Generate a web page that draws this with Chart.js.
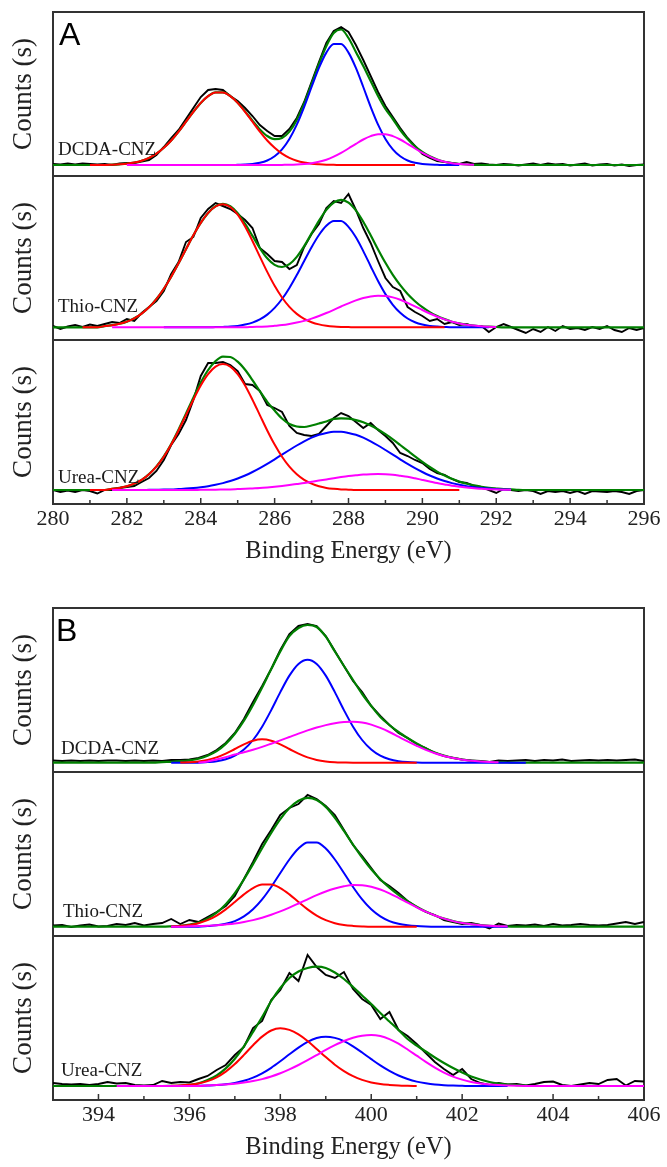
<!DOCTYPE html>
<html lang="en">
<head>
<meta charset="utf-8">
<title>XPS spectra of CNZ samples</title>
<script src="https://cdn.jsdelivr.net/npm/chart.js@4.4.1/dist/chart.umd.min.js"></script>
<style>
html,body{margin:0;padding:0;background:#fff;}
body{position:relative;width:667px;height:1167px;overflow:hidden;}
canvas.plot{position:absolute;left:0;}
.sample{position:absolute;font-family:"Liberation Serif","Times New Roman",serif;font-size:19px;line-height:19px;color:#1a1a1a;white-space:nowrap;}
.panel{position:absolute;font-family:"Liberation Sans",Arial,sans-serif;font-size:32px;line-height:32px;color:#000;}
</style>
</head>
<body>
<canvas id="cA1" class="plot" width="667" height="168" style="top:10px"></canvas>
<canvas id="cA2" class="plot" width="667" height="168" style="top:174px"></canvas>
<canvas id="cA3" class="plot" width="667" height="228" style="top:338px"></canvas>
<canvas id="cB1" class="plot" width="667" height="168" style="top:606px"></canvas>
<canvas id="cB2" class="plot" width="667" height="168" style="top:770px"></canvas>
<canvas id="cB3" class="plot" width="667" height="228" style="top:934px"></canvas>
<div class="panel" style="left:59px;top:18px">A</div>
<div class="panel" style="left:56px;top:614px">B</div>
<div class="sample" style="left:58px;top:139px">DCDA-CNZ</div>
<div class="sample" style="left:58px;top:296px">Thio-CNZ</div>
<div class="sample" style="left:58px;top:467px">Urea-CNZ</div>
<div class="sample" style="left:61px;top:738px">DCDA-CNZ</div>
<div class="sample" style="left:63px;top:901px">Thio-CNZ</div>
<div class="sample" style="left:61px;top:1060px">Urea-CNZ</div>
<script>
const _ = null;

// ---------- x grids and tick labels ----------
const energyA = [280,280.2,280.4,280.6,280.8,281,281.2,281.4,281.6,281.8,282,282.2,282.4,282.6,282.8,
283,283.2,283.4,283.6,283.8,284,284.2,284.4,284.6,284.8,285,285.2,285.4,285.6,285.8,
286,286.2,286.4,286.6,286.8,287,287.2,287.4,287.6,287.8,288,288.2,288.4,288.6,288.8,
289,289.2,289.4,289.6,289.8,290,290.2,290.4,290.6,290.8,291,291.2,291.4,291.6,291.8,
292,292.2,292.4,292.6,292.8,293,293.2,293.4,293.6,293.8,294,294.2,294.4,294.6,294.8,
295,295.2,295.4,295.6,295.8,296];
const energyB = [393,393.2,393.4,393.6,393.8,394,394.2,394.4,394.6,394.8,395,395.2,395.4,395.6,395.8,
396,396.2,396.4,396.6,396.8,397,397.2,397.4,397.6,397.8,398,398.2,398.4,398.6,398.8,
399,399.2,399.4,399.6,399.8,400,400.2,400.4,400.6,400.8,401,401.2,401.4,401.6,401.8,
402,402.2,402.4,402.6,402.8,403,403.2,403.4,403.6,403.8,404,404.2,404.4,404.6,404.8,
405,405.2,405.4,405.6,405.8,406];
const ticksA = [280,282,284,286,288,290,292,294,296];
const minorTicksA = [281,283,285,287,289,291,293,295];
const ticksB = [394,396,398,400,402,404,406];
const minorTicksB = [395,397,399,401,403,405];
const sampleNames = ['DCDA-CNZ','Thio-CNZ','Urea-CNZ'];

// ---------- Panel A (C 1s) ----------
const a1Raw = [12,11.5,12.5,11.5,12.5, 12,11.5,12,11,12.5, 13,13,14.5,16,21, 29,38,46,57,68,
79,86,87,86,80, 75,68,60,51,45, 40,40,47,58,74, 94,114,133,145,149, 144,131,116,100,84,
70,59,48,38,30, 22,18,15,14,13, 12,14,12,12.5,11.5, 11,12,11.5,10.5,11.5, 12.5,11,12.5,11.5,12,
10.5,11.5,12.5,10.5,11.5, 12,10.5,11.5,10,11, 11.5];
const a1Fit = [11,11,11,11,11, 11,11,11,11.3,11.7, 12.3,13.4,15.2,18.1,22.3, 28.2,35.5,44.4,54.3,64.2,
73.1,79.9,83.6,83.6,79.9, 73.3,64.6,55.3,46.6,40, 36.9,38.1,44.4,56.1,72.6, 92.1,112,130,143,146.5,
138,124,110,95,80, 67,57,46,37,29.7, 24.1,19.7,16.5,14.2,12.8, 12,11.5,11.2,11,11,
11,11,11,11,11, 11,11,11,11,11, 11,11,11,11,11, 11,11,11,11,11, 11];
const a1Red = [_,_,_,_,_, 11,11,11,11.3,11.7, 12.3,13.4,15.2,18.1,22.3, 28.2,35.5,44.4,54.3,64.2,
73.1,79.9,83.6,83.6,79.9, 73.1,64.2,54.3,44.4,35.5, 28.2,22.3,18.1,15.2,13.4, 12.3,11.7,11.3,11.2,11,
11,11,11,11,11, 11,11,11,11,11, _,_,_,_,_, _,_,_,_,_, _,_,_,_,_, _,_,_,_,_, _,_,_,_,_, _,_,_,_,_, _];
const a1Blue = [_,_,_,_,_, _,_,_,_,_, _,_,_,_,_, _,_,_,11,11, 11,11,11,11,11, 11.2,11.4,12,13.2,15.5,
19.7,26.7,37.1,51.4,69.2, 89,108.1,123.4,131.9,131.9, 123.4,108.1,89,69.2,51.4, 37.1,26.7,19.7,15.5,13.2,
12,11.4,11.2,11,11, 11,_,_,_,_, _,_,_,_,_, _,_,_,_,_, _,_,_,_,_, _,_,_,_,_, _];
const a1Mag = [_,_,_,_,_, _,_,_,_,_, 11,11,11,11,11, 11,11,11,11,11, 11,11,11,11,11, 11,11,11,11,11,
11,11.1,11.2,11.5,12, 12.8,14.2,16.3,19.3,23.1, 27.5,32.1,36.5,39.9,41.8, 41.8,39.9,36.5,32.1,27.5,
23.1,19.3,16.3,14.2,12.8, 12,11.5,11.2,_,_, _,_,_,_,_, _,_,_,_,_, _,_,_,_,_, _,_,_,_,_, _];

const a2Raw = [14,11,13.5,15,13, 15.5,14,16,18,17, 21,19,27,33,39, 49,66,78,98,103,
122,131,137,134,131, 126,120,112,92,86, 79,78,71,75,93, 106,116,132,139,137, 146,130,112,97,79,
62,53,49,33,28, 24,19,21,16,18, 15,16,13,14,8, 13,16,13,10,7, 11,8,13,9,14,
11,12,10,13,11, 14,10,8,12,10, 12];
const a2Fit = [12.7,12.7,12.7,12.7,12.7, 12.7,12.7,13.9,14.8,16.2, 18.4,21.7,26.4,32.7,41, 51.2,63.3,76.7,90.8,104.7,
117.1,127.1,133.7,136.1,133.7, 126.7,116.1,104.1,91.9,81.7, 75.1,73,75.8,83.1,93.8, 106.6,119.2,130.1,137.4,140.2,
137.4,129.6,118.2,104.7,90.6, 77.2,65.1,54.8,46,38.8, 32.8,27.9,24,20.9,18.3, 16.6,15.3,14.4,13.7,13.3,
13,12.7,12.7,12.7,12.7, 12.7,12.7,12.7,12.7,12.7, 12.7,12.7,12.7,12.7,12.7, 12.7,12.7,12.7,12.7,12.7, 12.7];
const a2Red = [_,_,_,_,12.7, 12.7,12.7,13.9,14.8,16.2, 18.4,21.7,26.4,32.7,41, 51.2,63.3,76.7,90.8,104.7,
117.1,127.1,133.5,135.7,133, 125.3,113.4,99,83.4,68.1, 54.2,42.5,33.1,26.1,21.1, 17.8,15.6,14.3,13.5,13.1,
12.9,12.7,12.7,12.7,12.7, 12.7,12.7,12.7,12.7,12.7, 12.7,12.7,12.7,12.7,_, _,_,_,_,_, _,_,_,_,_, _,_,_,_,_,
_,_,_,_,_, _,_,_,_,_, _];
const a2Blue = [_,_,_,_,_, _,_,_,_,_, _,_,_,_,_, 12.7,12.7,12.7,12.7,12.7, 12.7,12.7,12.9,13.1,13.4,
14.1,15.4,17.4,20.6,25.4, 32.1,41,52.1,65,79, 92.8,105,114.2,119.1,119, 113.2,102.7,88.9,73.8,59,
45.9,35.2,27.2,21.5,17.8, 15.5,14.1,13.4,13,12.7, 12.7,12.7,12.7,12.7,12.7, _,_,_,_,_, _,_,_,_,_,
_,_,_,_,_, _,_,_,_,_, _];
const a2Mag = [_,_,_,_,_, _,_,_,12.7,12.7, 12.7,12.7,12.7,12.7,12.7, 12.7,12.7,12.7,12.7,12.7, 12.7,12.7,12.7,12.7,12.7,
12.7,12.7,13.05,13.3,13.6, 14.2,14.9,16,17.4,19.1, 21.4,24,27,30.2,33.5, 36.7,39.6,42,43.6,44.3,
44,42.6,40.3,37.2,33.7, 30,26.5,23.3,20.6,18.3, 16.6,15.3,14.4,13.7,13.3, 13,_,_,_,_, _,_,_,_,_,
_,_,_,_,_, _,_,_,_,_, _];

const a3Raw = [14,12,13.5,12,14, 13,10.5,14,14,16, 17,18,22,26,33, 44,59,70,84,104,
128,141,141,142,139, 133,120,119,113,99, 96,92,78,71,69, 68,70,78,86,91, 88,82,76,81,74,
68,61,51,48,44, 41,35,31,29,25, 22,21,18,17,14, 11,15,14,13,14, 13,10,13,12,13,
11,13,10,13,12.5, 12,13,12,10,13, 14];
const a3Fit = [14,14,14,14,14, 14,14,14,15.2,16.1, 17.7,20.3,24.1,29.9,37.6, 47.6,60,74.5,90.3,106.3,
121.5,134,142.9,147.4,147, 142.3,134.2,123.9,112.8,102.2, 93.4,85.5,80,77.5,77, 78.5,80.5,82.5,85.2,85.7,
85.3,83.9,81.7,78.5,74.5, 69.8,64.7,59,53.3,47.6, 42.1,37,32.4,28.6,25.2, 22.5,20.2,18.6,17.2,16.2,
15.5,14.9,14.6,14.2,14, 14,14,14,14,14, 14,14,14,14,14, 14,14,14,14,14, 14];
const a3Red = [_,_,_,_,_, 14,14,14,15.2,16.1, 17.7,20.3,24.1,29.7,37.3, 47.2,59.4,73.5,88.9,104.3,
118.5,129.9,137.4,140,137.4, 129.9,118.5,104.3,88.9,73.5, 59.4,47.2,37.3,29.7,24.1, 20.3,17.7,16.1,15.2,14.6,
14.3,14,14,14,14, 14,14,14,14,14, 14,14,14,14,14, 14,_,_,_,_, _,_,_,_,_, _,_,_,_,_,
_,_,_,_,_, _,_,_,_,_, _];
const a3Blue = [_,_,_,_,_, _,_,_,14,14, 14,14,14,14.2,14.3, 14.4,14.6,15,15.4,16, 16.8,17.8,19.2,20.9,23,
25.5,28.5,32,35.9,40.1, 44.7,49.4,54,58.5,62.7, 66.3,69.2,71.1,72.2,72.2, 71.1,69.2,66.3,62.7,58.5,
54,49.4,44.7,40.1,35.9, 32,28.5,25.5,23,20.9, 19.2,17.8,16.8,16,15.4, 15,14.6,14.4,_,_, _,_,_,_,_,
_,_,_,_,_, _,_,_,_,_, _];
const a3Mag = [_,_,_,_,_, _,_,_,14,14, 14,14,14,14,14, 14,14,14,14,14, 14.2,14.25,14.3,14.45,14.6,
14.9,15.2,15.6,16,16.6, 17.3,18.1,19,20,21, 22.2,23.4,24.6,25.8,26.9, 27.9,28.7,29.4,29.8,30,
29.8,29.3,28.3,27.2,25.7, 24.1,22.5,20.9,19.6,18.3, 17.3,16.4,15.8,15.2,14.8, 14.5,14.3,14.2,_,_, _,_,_,_,_,
_,_,_,_,_, _,_,_,_,_, _];

// ---------- Panel B (N 1s) ----------
const b1Raw = [11.5,11,11.5,11,11.5, 11,11.5,11.5,11,11.5, 11,11.5,11,12,12, 12.5,14,17,22,29,
39,53,70,86,103, 122,138,146,148,146, 136,121,106,91,80, 66,56,47,39,34, 28,24,19,16,14,
12.5,11.5,11,10,11.5, 11,11.5,12,11,12, 11.5,12.5,11,11.5,12, 11.5,12,11.5,12,12.5, 11];
const b1Fit = [9.3,9.3,9.3,9.3,9.3, 9.3,9.3,9.3,9.3,9.3, 9.3,9.3,9.9,10.2,10.8, 11.7,13.2,16.3,20.9,28.1,
38.2,51.3,67,84.5,102.9, 120.6,135.8,144,147,145, 135.3,120.5,106,92,78, 66,55,47,40,34,
28.5,23.5,19.5,16.5,14.2, 12.5,11.3,10.6,10,9.7, 9.5,9.3,9.3,9.3,9.3, 9.3,9.3,9.3,9.3,9.3, 9.3,9.3,9.3,9.3,9.3, 9.3];
const b1Red = [_,_,_,_,_, _,_,_,_,_, _,_,_,_,9.5, 9.8,10.6,12.1,14.6,18.3, 23,27.7,31.3,32.7,31.3,
27.7,23,18.3,14.6,12.1, 10.6,9.8,9.5,9.3,9.3, 9.3,9.3,9.3,9.3,9.3, 9.3,_,_,_,_,
_,_,_,_,_, _,_,_,_,_, _,_,_,_,_, _,_,_,_,_, _];
const b1Blue = [_,_,_,_,_, _,_,_,_,_, _,_,_,9.3,9.3, 9.3,9.3,9.9,10.8,12.7, 16.3,22.5,32,45.3,61.9,
79.9,96.4,108.1,112.3,108.1, 96.4,79.9,61.9,45.3,32, 22.5,16.3,12.7,10.8,9.9, 9.5,9.3,9.3,9.3,9.3,
9.3,9.3,9.3,9.3,9.3, 9.3,9.3,9.3,_,_, _,_,_,_,_, _,_,_,_,_, _];
const b1Mag = [_,_,_,_,_, _,_,_,_,_, _,_,_,_,_, _,9.3,10.5,12.5,14.8, 17.5,19.7,22.3,25.1,28.3,
31.6,35,38.4,41.6,44.5, 46.9,48.8,49.9,50.3,49.6, 47.4,44.1,40,35.3,30.6, 26.2,22.1,18.7,16,13.9,
12.3,11.2,10.5,10,9.7, _,_,_,_,_, _,_,_,_,_, _,_,_,_,_, _];

const b2Raw = [10.5,11,9,10.5,11.5, 9.5,10,12,11,13, 10.5,12,13,17,12, 16,14,19,24,30,
40,57,74,92,106, 121,128,132,141,137, 130,121,106,91,80, 68,56,50,43,35, 29,24,21,16,14,
12,13,11,7.5,12.5, 10,11,10.5,11.5,10, 12,10.5,11,12,11, 10.5,11,12.5,14,12, 14];
const b2Fit = [9.3,9.3,9.3,9.3,9.3, 9.3,9.3,9.3,9.3,9.3, 9.3,9.3,9.3,9.6,10.1, 11.4,13.4,17.4,23.3,31.8,
42.9,56.7,71.9,87.8,103.1, 116.9,127.9,135.3,138.2,136.1, 129.1,118.2,105.1,91.4,78.4, 66.7,56.8,48.3,41.1,34.8,
29.3,24.5,20.5,17.4,14.9, 13.1,11.8,10.8,10.2,9.8, 9.6,9.3,9.3,9.3,9.3, 9.3,9.3,9.3,9.3,9.3, 9.3,9.3,9.3,9.3,9.3, 9.3];
const b2Red = [_,_,_,_,_, _,_,_,_,_, _,_,_,9.6,10.1, 11,12.8,15.8,20.4,26.6, 34,41.6,47.9,51.5,51.5,
47.9,41.6,34,26.6,20.4, 15.8,12.8,11,10.1,9.6, 9.3,9.3,9.3,9.3,9.3, 9.3,_,_,_,_,
_,_,_,_,_, _,_,_,_,_, _,_,_,_,_, _,_,_,_,_, _];
const b2Blue = [_,_,_,_,_, _,_,_,_,_, _,_,_,9.3,9.3, 9.3,9.3,9.9,10.7,12.2, 14.9,19.6,26.7,36.6,49,
63,76.5,87.4,93.5,93.5, 87.4,76.5,63,49,36.6, 26.7,19.6,14.9,12.2,10.7, 9.9,9.5,9.3,9.3,9.3,
9.3,9.3,9.3,9.3,9.3, 9.3,_,_,_,_, _,_,_,_,_, _,_,_,_,_, _];
const b2Mag = [_,_,_,_,_, _,_,_,_,_, _,_,_,9.3,9.3, 9.7,9.9,10.3,10.8,11.6, 12.6,14.1,15.9,18.3,21.2,
24.6,28.4,32.5,36.7,40.8, 44.5,47.5,49.7,50.9,50.8, 49.3,46.5,42.7,38.2,33.4, 28.7,24.3,20.5,17.4,14.9,
13.1,11.8,10.8,10.2,9.8, 9.6,_,_,_,_, _,_,_,_,_, _,_,_,_,_, _];

const b3Raw = [17,16,15.5,16,15, 16,18,16.5,17,15, 14.5,15,19,17,18, 17.5,21,24,30,35,
45,53,72,79,100, 110,127,119,145,133, 125,122,128,111,101, 95,81,88,70,64, 56,47,38,31,25,
31,21,17,15,17, 15.5,16,14.5,16,18, 18.5,15,14,15.5,17, 16,20,21,14.5,19, 18.5];
const b3Fit = [14,14,14,14,14, 14,14,14,14,14, 14,14,14,14.2,14.5, 15.2,16.7,20,24.5,31.6,
41.3,53.7,68.1,83,99, 112,122,128.5,132,133.3, 132,127.5,121,113,104.5, 96,87,78.5,70,61,
54.5,48.5,42.5,37,32, 27.5,23.5,20.5,18,16.5, 15.5,14.8,14.3,14,14, 14,14,14,14,14, 14,14,14,14,14, 14];
const b3Red = [_,_,_,_,_, _,_,_,_,_, _,_,_,14.2,14.5, 15.2,16.5,18.9,22.7,28.4, 36,45.1,54.8,63.4,69.5,
71.7,70.1,65.6,59,51, 42.9,35.3,28.9,23.8,20.1, 17.6,16,15.1,14.5,14.2, 14,_,_,_,_,
_,_,_,_,_, _,_,_,_,_, _,_,_,_,_, _,_,_,_,_, _];
const b3Blue = [_,_,_,_,_, _,_,_,_,_, _,_,_,14,14, 14,14.2,14.5,14.9,15.7, 17.1,19.2,22.4,26.7,32.2,
38.7,45.7,52.4,58.1,62, 63.3,62.1,58.8,53.7,47.5, 40.9,34.6,29.1,24.5,21, 18.4,16.7,15.5,14.8,14.4,
14.2,14,14,14,14, 14,_,_,_,_, _,_,_,_,_, _,_,_,_,_, _];
const b3Mag = [_,_,_,_,_, _,_,14,14,14, 14,14,14,14,14, 14,14,14.6,14.9,15.5, 16.2,17.4,18.9,20.9,23.5,
26.7,30.6,35,39.8,44.9, 50.1,54.8,59,62.2,64.3, 65,63.9,60.9,56.3,50.5, 44.3,38.1,32.4,27.4,23.4,
20.4,18.1,16.5,15.5,14.9, 14.5,14.2,14,14,14, 14,14,14,14,14, 14,14,14,14,14, 14];

// ---------- rendering ----------
const SERIF = "'Liberation Serif','Times New Roman',serif";
const AXIS_COLOR = '#333333';
const TEXT_COLOR = '#222222';

function toPoints(xs, ys) {
  const out = [];
  xs.forEach((x, i) => { if (ys[i] !== null && ys[i] !== undefined) out.push({x: x, y: ys[i]}); });
  return out;
}

const inwardTicks = {
  id: 'inwardTicks',
  afterDraw(chart, args, opts) {
    if (!opts || !opts.major) return;
    const sx = chart.scales.x, ctx = chart.ctx, yb = chart.chartArea.bottom;
    ctx.save();
    ctx.strokeStyle = AXIS_COLOR;
    ctx.lineWidth = 1.5;
    ctx.beginPath();
    opts.major.forEach(v => { const x = sx.getPixelForValue(v); ctx.moveTo(x, yb); ctx.lineTo(x, yb - 6); });
    opts.minor.forEach(v => { const x = sx.getPixelForValue(v); ctx.moveTo(x, yb); ctx.lineTo(x, yb - 4); });
    ctx.stroke();
    ctx.restore();
  }
};

function makePlot(id, energy, s, cfg) {
  const isBottom = cfg.bottom;
  const ds = (label, data, color, width, order, smooth) => ({
    label: label, data: toPoints(energy, data), borderColor: color, borderWidth: width, order: order,
    pointRadius: 0, fill: false, tension: smooth ? 0.4 : 0,
    cubicInterpolationMode: smooth ? 'monotone' : 'default'
  });
  const hiddenAxis = (position, min, max, sizeKey) => ({
    type: 'linear', position: position, min: min, max: max,
    afterFit: (ax) => { ax[sizeKey] = 0; },
    ticks: {display: false},
    grid: {display: true, drawOnChartArea: false, drawTicks: false},
    border: {display: true, color: AXIS_COLOR, width: 2}
  });
  return new Chart(document.getElementById(id), {
    type: 'line',
    data: {datasets: [
      ds('component 3', s.mag, '#ff00ff', 2, 1, true),
      ds('component 1', s.red, '#ff0000', 2, 2, true),
      ds('component 2', s.blue, '#0000ff', 2, 3, true),
      ds(cfg.name + ' fit', s.fit, '#008000', 2.2, 4, true),
      ds(cfg.name + ' data', s.raw, '#000000', 1.9, 5, false)
    ]},
    options: {
      responsive: false, animation: false, devicePixelRatio: 1, events: [],
      layout: {autoPadding: false, padding: {top: 2, right: 23, bottom: isBottom ? 0 : 2, left: 0}},
      plugins: {
        legend: {display: false}, tooltip: {enabled: false},
        inwardTicks: isBottom ? {major: cfg.major, minor: cfg.minor} : {major: null}
      },
      scales: {
        x: {
          type: 'linear', position: 'bottom', min: cfg.min, max: cfg.max,
          afterBuildTicks: (ax) => { ax.ticks = cfg.major.map(v => ({value: v})); },
          afterFit: (ax) => { ax.height = isBottom ? 62 : 0; },
          ticks: {display: isBottom, color: TEXT_COLOR, padding: 2, maxRotation: 0, autoSkip: false,
                  font: {family: SERIF, size: 22}},
          grid: {display: true, drawOnChartArea: false, drawTicks: false},
          border: {display: true, color: AXIS_COLOR, width: 2},
          title: {display: isBottom, text: 'Binding Energy (eV)', color: TEXT_COLOR,
                  font: {family: SERIF, size: 24.5}, padding: {top: 0, bottom: 0}}
        },
        xTop: hiddenAxis('top', cfg.min, cfg.max, 'height'),
        y: {
          type: 'linear', position: 'left', min: 0, max: 164,
          afterFit: (ax) => { ax.width = 53; },
          ticks: {display: false},
          grid: {display: true, drawOnChartArea: false, drawTicks: false},
          border: {display: true, color: AXIS_COLOR, width: 2},
          title: {display: true, text: 'Counts (s)', color: TEXT_COLOR,
                  font: {family: SERIF, size: 27}, padding: {top: 8, bottom: 0}}
        },
        yRight: hiddenAxis('right', 0, 164, 'width')
      }
    },
    plugins: [inwardTicks]
  });
}

const cfgA = {min: 280, max: 296, major: ticksA, minor: minorTicksA};
const cfgB = {min: 393, max: 406, major: ticksB, minor: minorTicksB};

makePlot('cA1', energyA, {raw: a1Raw, fit: a1Fit, red: a1Red, blue: a1Blue, mag: a1Mag}, Object.assign({bottom: false, name: sampleNames[0]}, cfgA));
makePlot('cA2', energyA, {raw: a2Raw, fit: a2Fit, red: a2Red, blue: a2Blue, mag: a2Mag}, Object.assign({bottom: false, name: sampleNames[1]}, cfgA));
makePlot('cA3', energyA, {raw: a3Raw, fit: a3Fit, red: a3Red, blue: a3Blue, mag: a3Mag}, Object.assign({bottom: true, name: sampleNames[2]}, cfgA));
makePlot('cB1', energyB, {raw: b1Raw, fit: b1Fit, red: b1Red, blue: b1Blue, mag: b1Mag}, Object.assign({bottom: false, name: sampleNames[0]}, cfgB));
makePlot('cB2', energyB, {raw: b2Raw, fit: b2Fit, red: b2Red, blue: b2Blue, mag: b2Mag}, Object.assign({bottom: false, name: sampleNames[1]}, cfgB));
makePlot('cB3', energyB, {raw: b3Raw, fit: b3Fit, red: b3Red, blue: b3Blue, mag: b3Mag}, Object.assign({bottom: true, name: sampleNames[2]}, cfgB));
</script>
</body>
</html>
